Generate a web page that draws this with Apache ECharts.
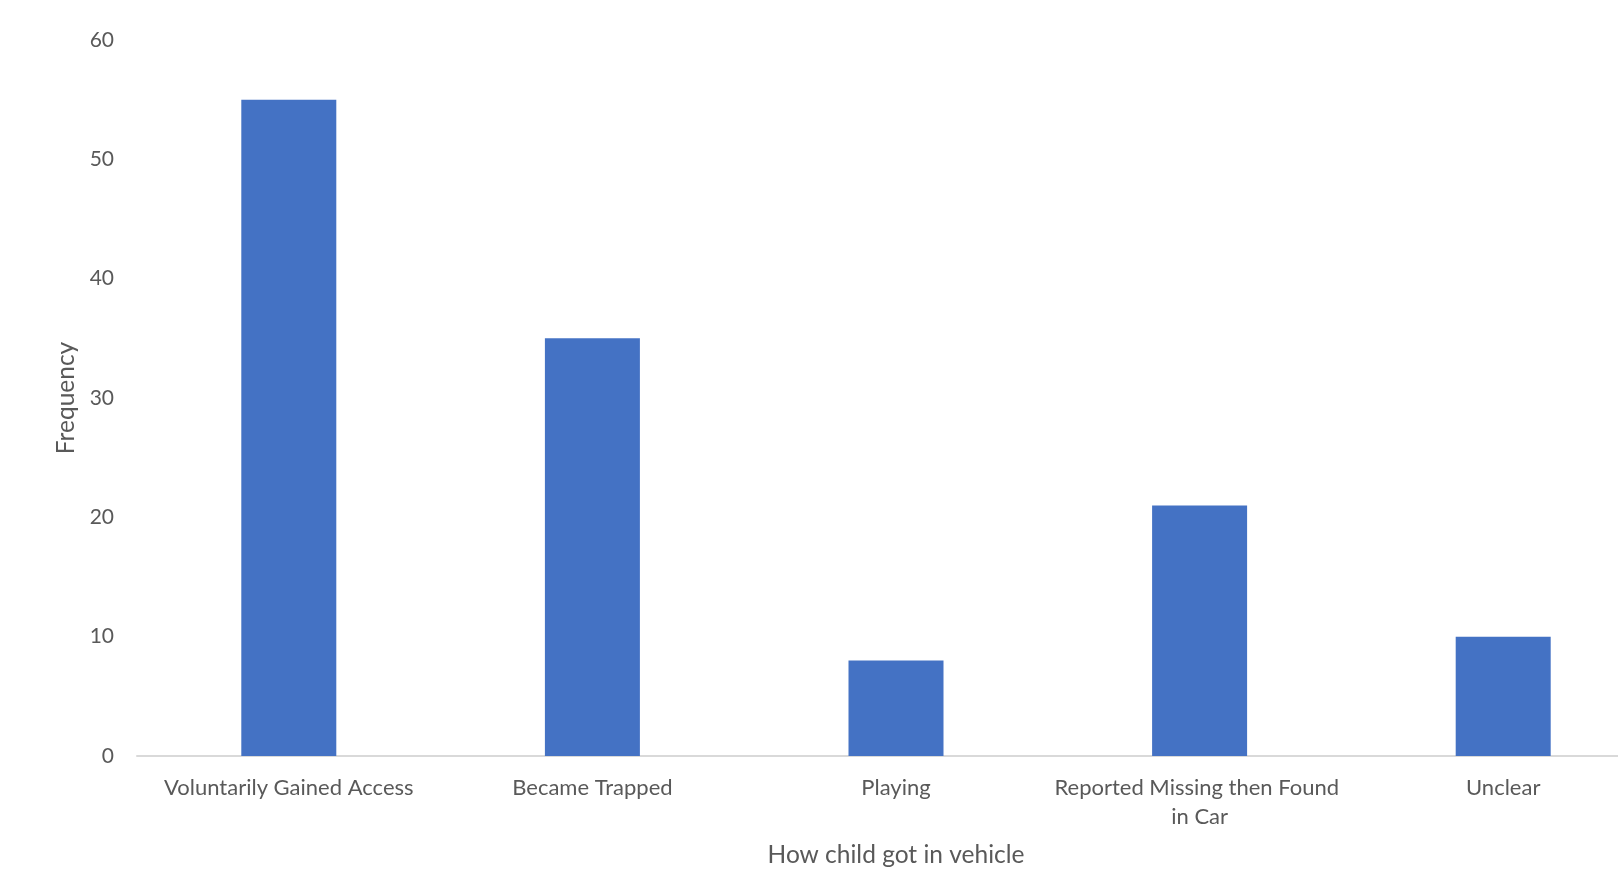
<!DOCTYPE html>
<html>
<head>
<meta charset="utf-8">
<script src="https://cdn.jsdelivr.net/npm/echarts@6/dist/echarts.min.js"></script>
<style>
  html, body { margin: 0; padding: 0; background: #ffffff; }
  #chart { width: 1618px; height: 878px; }
</style>
</head>
<body>
<div id="chart"></div>
<script>
// How the child got into the vehicle, with counts per category
const categories = [
  'Voluntarily Gained Access',
  'Became Trapped',
  'Playing',
  'Reported Missing then Found in Car',
  'Unclear'
];
const frequency = [55, 35, 8, 21, 10];
const yTicks = { min: 0, max: 60, interval: 10 };

const FONT = 'Lato, "Open Sans", sans-serif';
const TEXT = '#595959';

const chart = echarts.init(document.getElementById('chart'));
chart.setOption({
  animation: false,
  backgroundColor: '#ffffff',
  // the plot runs past the right edge of the canvas, so the last band is cut off
  grid: { left: 137, top: 40, width: 1518, height: 716, containLabel: false, outerBoundsMode: 'none' },
  xAxis: {
    type: 'category',
    data: categories,
    name: 'How child got in vehicle',
    nameLocation: 'middle',
    nameGap: 87,
    nameTextStyle: { fontFamily: FONT, fontSize: 24.5, color: TEXT },
    axisLine: { lineStyle: { color: '#d9d9d9', width: 2 } },
    axisTick: { show: false },
    axisLabel: {
      interval: 0,
      margin: 17,
      fontFamily: FONT,
      fontSize: 22,
      color: TEXT,
      lineHeight: 29,
      width: 296,
      overflow: 'break'
    }
  },
  yAxis: {
    type: 'value',
    min: yTicks.min,
    max: yTicks.max,
    interval: yTicks.interval,
    name: 'Frequency',
    nameLocation: 'middle',
    nameGap: 58,
    nameRotate: 90,
    nameTextStyle: { fontFamily: FONT, fontSize: 24.5, color: TEXT },
    axisLine: { show: false },
    axisTick: { show: false },
    splitLine: { show: false },
    axisLabel: { margin: 23, fontFamily: FONT, fontSize: 21, color: TEXT }
  },
  series: [{
    type: 'bar',
    data: frequency,
    barWidth: 95,
    itemStyle: { color: '#4472C4' }
  }]
});
</script>
</body>
</html>
